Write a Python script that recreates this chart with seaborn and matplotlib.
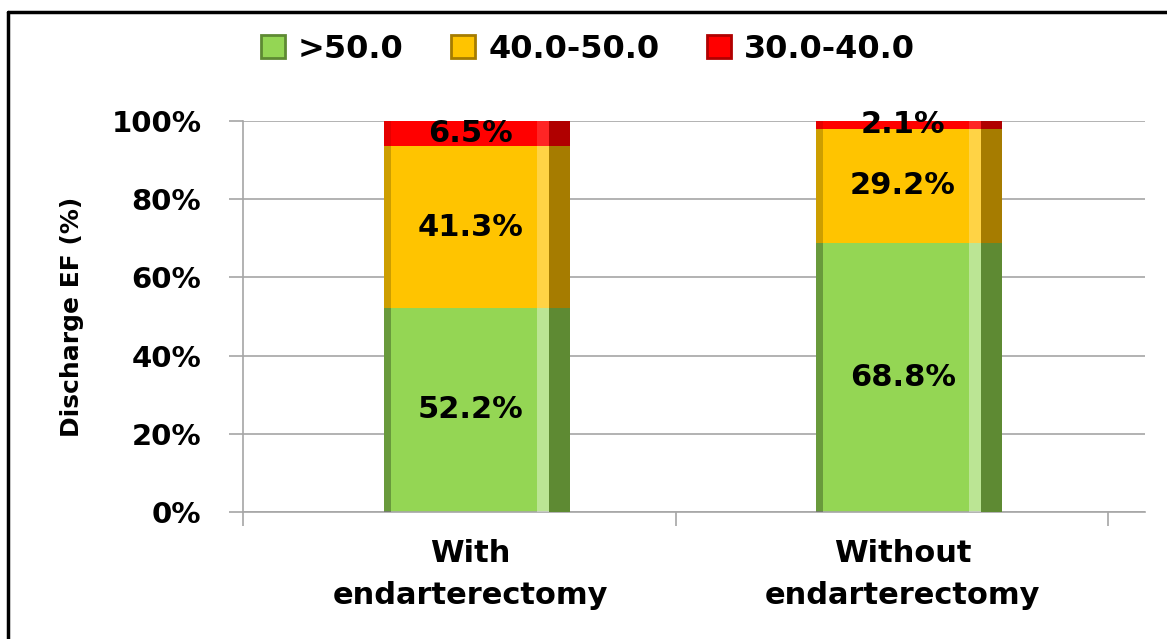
import matplotlib.pyplot as plt
import seaborn as sns
import pandas as pd
import numpy as np
from matplotlib.patches import Patch
from matplotlib.lines import Line2D

# ==========================================
# data
# ==========================================
groups = ["With\nendarterectomy", "Without\nendarterectomy"]
ef_gt50 = [52.2, 68.8]
ef_40_50 = [41.3, 29.2]
ef_30_40 = [6.5, 2.1]
series_names = [">50.0", "40.0-50.0", "30.0-40.0"]
y_ticks = [0, 20, 40, 60, 80, 100]

front_colors = ["#94D654", "#FFC400", "#FF0000"]
side_colors = ["#5E8A33", "#A67C00", "#B00000"]

sns.set_theme(style="white")
plt.rcParams['font.family'] = ['DejaVu Sans']
plt.rcParams['text.color'] = 'black'
plt.rcParams['xtick.color'] = 'black'
plt.rcParams['ytick.color'] = 'black'
plt.rcParams['axes.labelcolor'] = 'black'

layers = [ef_gt50, ef_40_50, ef_30_40]
cum = np.cumsum(np.array(layers), axis=0)   # bottom -> top
cum[-1] = np.minimum(cum[-1], 100)

fig = plt.figure(figsize=(11.67, 6.39), dpi=100)
ax = fig.add_axes([243 / 1167, 1 - 512 / 639, (1145 - 243) / 1167, (512 - 121) / 639])

BW = 0.43
# 从最高层往下画，模拟堆叠
for i in range(len(layers) - 1, -1, -1):
    d = pd.DataFrame({"group": groups, "val": cum[i]})
    sns.barplot(data=d, x="group", y="val", ax=ax, color=front_colors[i],
                width=BW, saturation=1, linewidth=0, zorder=2)

# 右侧阴影条 + 高光
xpos = np.arange(len(groups))
for i in range(len(layers) - 1, -1, -1):
    ax.bar(xpos + BW / 2 - 0.024, cum[i], width=0.048,
           color=side_colors[i], zorder=3, linewidth=0)
    ax.bar(xpos + BW / 2 - 0.062, cum[i], width=0.028,
           color="white", alpha=0.15, zorder=3, linewidth=0)
    ax.bar(xpos - BW / 2 + 0.008, cum[i], width=0.016,
           color="black", alpha=0.1, zorder=3, linewidth=0)

# 数据标签
for j in range(len(groups)):
    bottom = 0
    for i, vals in enumerate(layers):
        ax.text(j - 0.015, bottom + vals[j] / 2, f"{vals[j]:.1f}%", ha='center',
                va='center', fontsize=22, fontweight='bold', zorder=5)
        bottom += vals[j]

ax.set_xlim(-0.54, 1.545)
ax.set_ylim(0, 100)
ax.set_yticks(y_ticks)
ax.set_yticklabels([f"{t}%" for t in y_ticks], fontsize=21, fontweight='bold')
ax.set_xticks([-0.54, 0.46, 1.46])
ax.set_xticklabels([])
for j, g in enumerate(groups):
    ax.text(j - 0.015, -0.07, g, transform=ax.get_xaxis_transform(), ha='center',
            va='top', fontsize=22, fontweight='bold', linespacing=1.55)

ax.set_xlabel("")
ax.set_ylabel("Discharge EF (%)", fontsize=18, fontweight='bold', labelpad=20)
ax.yaxis.grid(True, color="#A6A6A6", linewidth=1.2, zorder=0)
ax.set_axisbelow(True)
ax.tick_params(axis='y', length=10, color="#A6A6A6", width=1.2, pad=20, left=True)
ax.tick_params(axis='x', length=10, color="#A6A6A6", width=1.2, bottom=True)
for s in ["top", "right"]:
    ax.spines[s].set_visible(False)
for s in ["left", "bottom"]:
    ax.spines[s].set_color("#A6A6A6")
    ax.spines[s].set_linewidth(1.2)

# 图例
handles = [Patch(facecolor=front_colors[i], edgecolor=side_colors[i], linewidth=2)
           for i in range(3)]
fig.legend(handles, series_names, loc='center', bbox_to_anchor=(588 / 1167, 1 - 49 / 639),
           ncol=3, frameon=False, prop={'size': 23, 'weight': 'bold'},
           handlelength=0.75, handleheight=0.75, handletextpad=0.4, columnspacing=1.5)

# 外框
fig.add_artist(Line2D([8 / 1167, 8 / 1167], [0, 1 - 12 / 639], transform=fig.transFigure,
                      color='black', linewidth=2.5))
fig.add_artist(Line2D([8 / 1167, 1], [1 - 12 / 639, 1 - 12 / 639], transform=fig.transFigure,
                      color='black', linewidth=2.5))

plt.savefig("out.png", dpi=100)
plt.close()
